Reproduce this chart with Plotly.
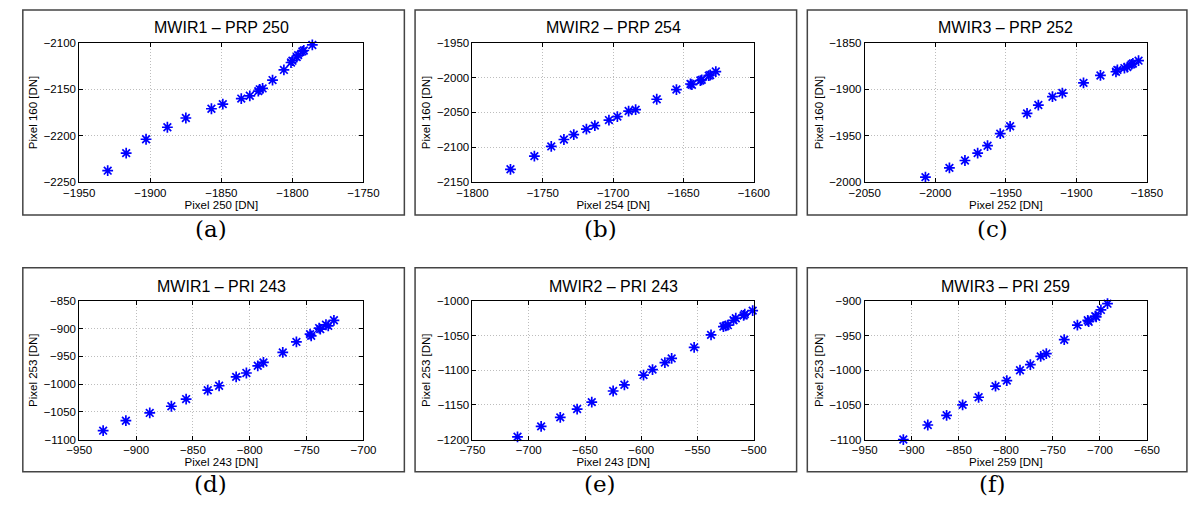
import plotly.graph_objects as go

W, H = 1200, 510

# ---------------- data ----------------
titles = ["MWIR1 – PRP 250", "MWIR2 – PRP 254", "MWIR3 – PRP 252",
          "MWIR1 – PRI 243", "MWIR2 – PRI 243", "MWIR3 – PRI 259"]
xlabels = ["Pixel 250 [DN]", "Pixel 254 [DN]", "Pixel 252 [DN]",
           "Pixel 243 [DN]", "Pixel 243 [DN]", "Pixel 259 [DN]"]
ylabels = ["Pixel 160 [DN]", "Pixel 160 [DN]", "Pixel 160 [DN]",
           "Pixel 253 [DN]", "Pixel 253 [DN]", "Pixel 253 [DN]"]
panel_tags = ["(a)", "(b)", "(c)", "(d)", "(e)", "(f)"]

xa = [-1930, -1917, -1903, -1888, -1875, -1857, -1849, -1836, -1830, -1824, -1823,
      -1821, -1814, -1806, -1801, -1800, -1797, -1796, -1793, -1792, -1786]
ya = [-2238, -2219, -2204, -2191, -2181, -2171, -2166, -2160, -2157, -2152, -2150,
      -2149, -2140, -2129, -2121, -2119, -2115, -2113, -2109, -2108, -2102]

xb = [-1773, -1756, -1744, -1735, -1728, -1719, -1713, -1703, -1697, -1689,
      -1684, -1669, -1655, -1645, -1644, -1638, -1637, -1632, -1631, -1627]
yb = [-2132, -2113, -2099, -2089, -2082, -2074, -2069, -2061, -2056, -2048,
      -2046, -2031, -2017, -2009, -2010, -2004, -2003, -1997, -1996, -1991]

xc = [-2007, -1990, -1979, -1970, -1963, -1954, -1947, -1935, -1927, -1917,
      -1910, -1895, -1883, -1872, -1871, -1866, -1864, -1861, -1860, -1856]
yc = [-1995, -1985, -1977, -1969, -1961, -1948, -1940, -1926, -1917, -1908,
      -1904, -1893, -1885, -1881, -1879, -1877, -1876, -1873, -1872, -1869]

xd = [-929, -909, -888, -869, -856, -837, -827, -812, -803, -793,
      -788, -771, -759, -747, -746, -739, -738, -733, -731, -726]
yd = [-1084, -1066, -1052, -1040, -1027, -1011, -1003, -987, -980, -967,
      -961, -943, -924, -910, -913, -899, -901, -893, -895, -885]

xe = [-710, -689, -672, -657, -644, -625, -615, -598, -590, -579, -573,
      -553, -538, -527, -525, -523, -518, -516, -509, -508, -501]
ye = [-1196, -1181, -1168, -1156, -1146, -1130, -1121, -1107, -1099, -1089, -1083,
      -1067, -1049, -1037, -1036, -1035, -1028, -1025, -1021, -1019, -1014]

xf = [-909, -883, -863, -846, -829, -811, -799, -785, -774, -763,
      -757, -738, -724, -713, -712, -705, -704, -699, -692]
yf = [-1100, -1079, -1065, -1050, -1039, -1023, -1015, -1000, -992, -980,
      -976, -956, -935, -928, -930, -922, -923, -913, -904]

xs = [xa, xb, xc, xd, xe, xf]
ys = [ya, yb, yc, yd, ye, yf]

xranges = [[-1950, -1750], [-1800, -1600], [-2050, -1850],
           [-950, -700], [-750, -500], [-950, -650]]
yranges = [[-2250, -2100], [-2150, -1950], [-2000, -1850],
           [-1100, -850], [-1200, -1000], [-1100, -900]]
xdticks = [50, 50, 50, 50, 50, 50]
ydticks = [50, 50, 50, 50, 50, 50]

# ---------------- layout geometry (pixels) ----------------
plot_lr = [(65, 357), (469, 758), (872, 1162)]
plot_tb = [(38, 180), (302, 444)]
box_lr = [(7, 399), (410, 802), (813, 1203)]
box_tb = [(4, 214), (268, 477)]
tag_x = [200, 600, 1003]
tag_y = [228, 490]
title_y = [22, 287]

fig = go.Figure()
font_main = "Liberation Sans, Arial, Helvetica, sans-serif"

shapes = []
annotations = []
for i in range(6):
    r, c = divmod(i, 3)
    n = i + 1
    xk = "x" if n == 1 else f"x{n}"
    yk = "y" if n == 1 else f"y{n}"
    fig.add_trace(go.Scatter(
        x=xs[i], y=ys[i], mode="markers", xaxis=xk, yaxis=yk, cliponaxis=False,
        marker=dict(symbol="asterisk-open", size=9, color="#0000ff",
                    line=dict(color="#0000ff", width=1.7)),
        showlegend=False, hoverinfo="x+y"))
    l, rgt = plot_lr[c]
    t, b = plot_tb[r]
    axcommon = dict(showline=True, linecolor="black", linewidth=1, mirror="ticks",
                    ticks="inside", ticklen=4, tickwidth=1, tickcolor="black",
                    showgrid=True, gridcolor="#bdbdbd", griddash="1px,2px", gridwidth=1,
                    zeroline=False, tickfont=dict(size=11.5, color="black", family=font_main),
                    title_font=dict(size=11.5, color="black", family=font_main))
    fig.layout[("xaxis" if n == 1 else f"xaxis{n}")] = dict(
        domain=[l / W, rgt / W], anchor=yk, range=xranges[i], dtick=xdticks[i],
        tick0=0, title=dict(text=xlabels[i], standoff=0), **axcommon)
    fig.layout[("yaxis" if n == 1 else f"yaxis{n}")] = dict(
        domain=[1 - b / H, 1 - t / H], anchor=xk, range=yranges[i], dtick=ydticks[i],
        tick0=0, title=dict(text=ylabels[i], standoff=3), **axcommon)
    bl, br = box_lr[c]
    bt, bb = box_tb[r]
    shapes.append(dict(type="rect", xref="paper", yref="paper",
                       x0=bl / W, x1=br / W, y0=1 - bb / H, y1=1 - bt / H,
                       line=dict(color="#444444", width=1.5), layer="below"))
    annotations.append(dict(text=titles[i], xref="paper", yref="paper",
                            x=(l + rgt) / 2 / W, y=1 - title_y[r] / H,
                            xanchor="center", yanchor="middle", showarrow=False,
                            font=dict(size=16, color="black", family=font_main)))
    annotations.append(dict(text=panel_tags[i], xref="paper", yref="paper",
                            x=tag_x[c] / W, y=1 - tag_y[r] / H,
                            xanchor="center", yanchor="middle", showarrow=False,
                            font=dict(size=23, color="black",
                                      family="DejaVu Serif, Liberation Serif, serif")))

fig.update_layout(width=W, height=H, autosize=False,
                  margin=dict(l=0, r=0, t=0, b=0, pad=0),
                  paper_bgcolor="white", plot_bgcolor="white",
                  shapes=shapes, annotations=annotations)

fig.write_html("out.html", config={"displayModeBar": False},
               post_script="document.body.style.margin='0';")
